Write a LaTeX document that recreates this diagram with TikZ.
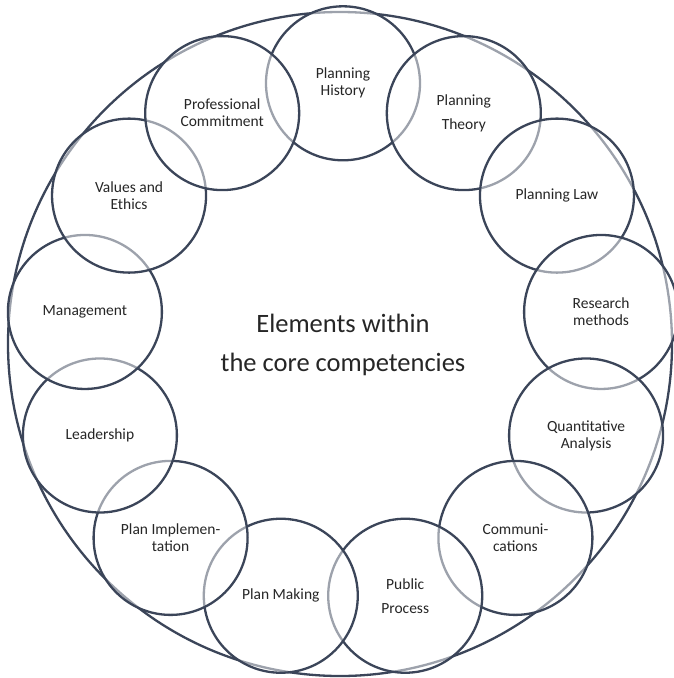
\documentclass[tikz,border=0pt]{standalone}
\usepackage{fontspec}
\setmainfont{Carlito}
\definecolor{ring}{HTML}{3B4559}
\definecolor{ink}{HTML}{262626}
\begin{document}
\begin{tikzpicture}[x=1pt,y=-1pt,
  topic/.style={circle, draw=ring, line width=2.3pt, fill=white,
    fill opacity=0.5, text opacity=1, text=ink, minimum size=154pt,
    inner sep=0pt, align=center, font=\fontsize{15.5}{17}\selectfont},
  rim/.style={circle, draw=ring, line width=2.3pt, minimum size=664pt, inner sep=0pt},
  heading/.style={align=center, text=ink, font=\fontsize{26.5}{39}\selectfont}]
\fill[white] (0,0) rectangle (673,678);
\useasboundingbox (0,0) rectangle (673,678);

% enclosing circle
\node[rim] (outer) at (340,344) {};

% thirteen equally spaced positions, clockwise from the top
\foreach \k in {0,...,12}
  \coordinate (p\k) at ({343+260*cos(-90+\k*360/13)},{343.3+260*sin(-90+\k*360/13)});

% competency circles, each drawn over the previous one
\node[topic] (ph)   at (p0)  {Planning\\History};
\node[topic] (pt)   at (p1)  {Planning\\[7pt]Theory};
\node[topic] (pl)   at (p2)  {Planning Law};
\node[topic] (rm)   at (p3)  {Research\\methods};
\node[topic] (qa)   at (p4)  {Quantitative\\Analysis};
\node[topic] (com)  at (p5)  {Communi-\\cations};
\node[topic] (pp)   at (p6)  {Public\\[7pt]Process};
\node[topic] (pm)   at (p7)  {Plan Making};
\node[topic] (pi)   at (p8)  {Plan Implemen-\\tation};
\node[topic] (lead) at (p9)  {Leadership};
\node[topic] (mgmt) at (p10) {Management};
\node[topic] (ve)   at (p11) {Values and\\Ethics};
\node[topic] (pc)   at (p12) {Professional\\Commitment};

% centre caption
\node[heading] (title) at (343,345) {Elements within\\the core competencies};
\end{tikzpicture}
\end{document}
